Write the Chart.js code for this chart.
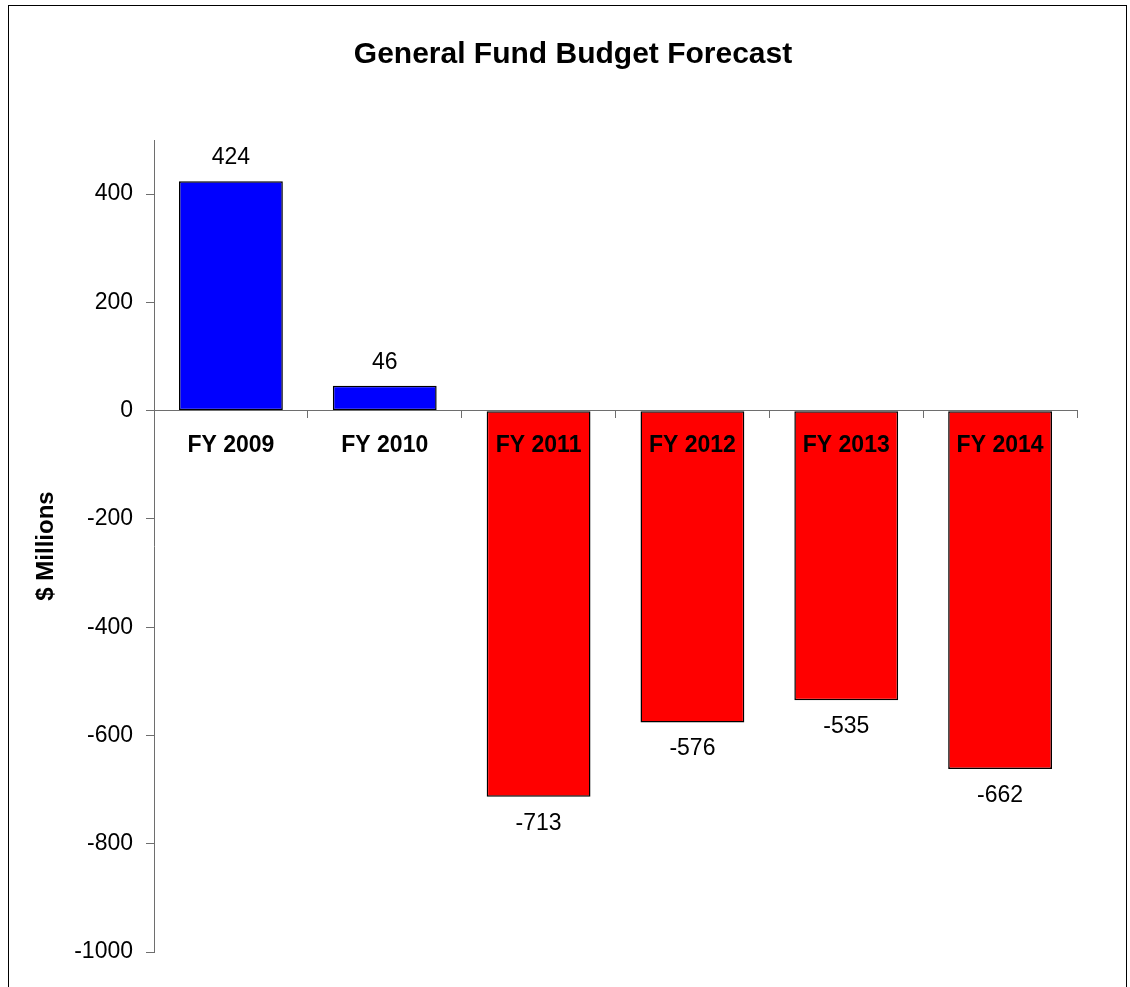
<!DOCTYPE html>
<html>
<head>
<meta charset="utf-8">
<title>General Fund Budget Forecast</title>
<script src="https://cdn.jsdelivr.net/npm/chart.js@4.4.1/dist/chart.umd.min.js"></script>
<style>
  html, body { margin: 0; padding: 0; background: #fff; overflow: hidden; }
  #wrap { position: relative; width: 1130px; height: 987px; }
  #frame { position: absolute; left: 8px; top: 5px; width: 1119px; height: 1100px; border: 1px solid #000; box-sizing: border-box; }
  canvas { position: absolute; left: 0; top: 0; }
</style>
</head>
<body>
<div id="wrap">
  <div id="frame"></div>
  <canvas id="chart" width="1130" height="987"></canvas>
</div>
<script>
// Fiscal years and projected surplus / shortfall ($ millions)
const categories = ['FY 2009', 'FY 2010', 'FY 2011', 'FY 2012', 'FY 2013', 'FY 2014'];
const balances = [424, 46, -713, -576, -535, -662];
const yTicks = [-1000, -800, -600, -400, -200, 0, 200, 400];
const chartTitle = 'General Fund Budget Forecast';

const FONT = '"Liberation Sans", Arial, Helvetica, sans-serif';
const AXIS_GRAY = '#6e6e6e';

const barColors = balances.map(v => v >= 0 ? '#0000ff' : '#ff0000');

// Title centred over the page, plus value labels above positive / below negative bars
const annotations = {
  id: 'annotations',
  afterDraw(chart) {
    const ctx = chart.ctx;
    ctx.save();
    ctx.fillStyle = '#000';
    ctx.textAlign = 'center';
    ctx.textBaseline = 'alphabetic';
    ctx.font = 'bold 30px ' + FONT;
    ctx.fillText(chartTitle, 573, 63);

    ctx.font = '23px ' + FONT;
    const meta = chart.getDatasetMeta(0);
    meta.data.forEach((bar, i) => {
      const v = balances[i];
      const y = v >= 0 ? bar.y - 17 : bar.y + 33;
      ctx.fillText(String(v), bar.x, y);
    });
    ctx.restore();
  }
};

new Chart(document.getElementById('chart'), {
  type: 'bar',
  data: {
    labels: categories,
    datasets: [{
      data: balances,
      backgroundColor: barColors,
      borderColor: '#000',
      borderWidth: 1.5,
      borderSkipped: false,
      barPercentage: 0.675,
      categoryPercentage: 1.0
    }]
  },
  options: {
    responsive: false,
    animation: false,
    layout: { padding: { left: 0, right: 53, top: 140, bottom: 35 } },
    plugins: {
      legend: { display: false },
      tooltip: { enabled: false },
      title: { display: false }
    },
    scales: {
      x: {
        position: { y: 0 },
        offset: true,
        grid: {
          display: true,
          drawOnChartArea: false,
          drawTicks: true,
          tickLength: 7,
          offset: true,
          color: AXIS_GRAY,
          z: 1
        },
        border: { display: true, color: AXIS_GRAY, width: 1, z: 1 },
        ticks: {
          z: 1,
          color: '#000',
          padding: 14,
          maxRotation: 0,
          autoSkip: false,
          font: { family: FONT, size: 23, weight: 'bold' }
        }
      },
      y: {
        min: -1000,
        max: 500,
        afterBuildTicks(scale) {
          scale.ticks = yTicks.map(v => ({ value: v }));
        },
        afterFit(scale) { scale.width = 154; },
        grid: {
          display: true,
          drawOnChartArea: false,
          drawTicks: true,
          tickLength: 8,
          color: AXIS_GRAY
        },
        border: { display: true, color: AXIS_GRAY, width: 1 },
        ticks: {
          color: '#000',
          padding: 13,
          font: { family: FONT, size: 23 },
          callback: v => String(v)
        },
        title: {
          display: true,
          text: '$ Millions',
          color: '#000',
          font: { family: FONT, size: 24, weight: 'bold' },
          padding: { top: 32, bottom: 0 }
        }
      }
    }
  },
  plugins: [annotations]
});
</script>
</body>
</html>
